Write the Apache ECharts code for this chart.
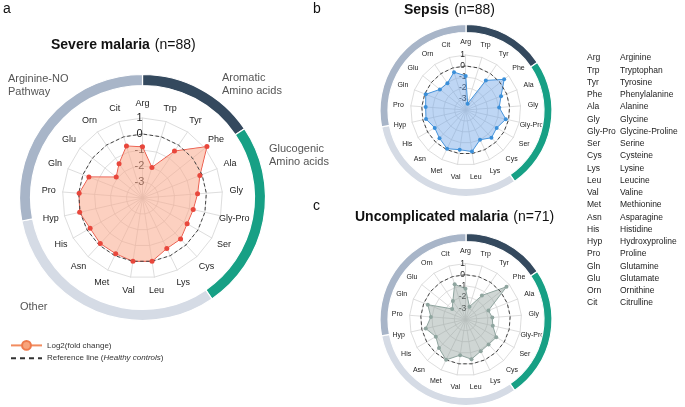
<!DOCTYPE html>
<html><head><meta charset="utf-8">
<script src="https://cdn.jsdelivr.net/npm/echarts@6/dist/echarts.min.js"></script>
<style>html,body{margin:0;padding:0;background:#fff}#c{width:685px;height:407px}</style>
</head><body><div id="c"></div>
<script>
// ---------- data ----------
const categories = ['Arg','Trp','Tyr','Phe','Ala','Gly','Gly-Pro','Ser','Cys','Lys','Leu','Val','Met','Asn','His','Hyp','Pro','Gln','Glu','Orn','Cit'];
const fullNames = ['Arginine','Tryptophan','Tyrosine','Phenylalanine','Alanine','Glycine','Glycine-Proline','Serine','Cysteine','Lysine','Leucine','Valine','Methionine','Asparagine','Histidine','Hydroxyproline','Proline','Glutamine','Glutamate','Ornithine','Citrulline'];
const severeMalaria = [-0.8, -2.0, -0.45, 1.15, -0.15, -0.55, -0.75, -0.78, -0.5, -0.5, 0.0, 0.0, -0.14, -0.12, -0.22, 0.03, -0.03, -0.4, -1.9, -1.4, -0.6];
const sepsis = [-0.9, -3.4, -0.75, 0.47, -0.55, -0.95, -0.26, -0.75, -0.56, -1.0, -0.18, -0.35, -0.1, -0.5, -0.75, -0.3, -0.35, -0.1, -1.0, -1.05, -0.4];
const uncomplicatedMalaria = [-1.25, -2.8, -1.4, 0.68, -1.8, -1.6, -1.5, -0.83, -0.97, -0.86, -0.42, -0.78, 0.0, -0.52, -0.94, -0.36, -0.9, -0.38, -2.48, -2.0, -0.71];
const healthyControls = [0,0,0,0,0,0,0,0,0,0,0,0,0,0,0,0,0,0,0,0,0];
const axisMin = -4, axisMax = 1;
const groupNames = ['Aromatic Amino acids','Glucogenic Amino acids','Other','Arginine-NO Pathway'];
const groupArcDegrees = [56, 89.6, 113.4, 101];
const groupColors = ['#34495e', '#17a085', '#d5dbe5', '#a8b5c8'];

// ---------- helpers ----------
const FF = '"Liberation Sans", Arial, Helvetica, sans-serif';
// ECharts radar runs counter-clockwise; the reference runs clockwise from the top
const order = [0].concat(categories.map((_, i) => i).slice(1).reverse());

function indicators(labelSize) {
  return order.map((i, k) => {
    const ind = { name: categories[i], min: axisMin, max: axisMax };
    if (k === 0) {
      ind.axisLabel = { show: true, fontSize: labelSize, color: '#222', fontFamily: FF,
        align: 'center', margin: 3, formatter: v => (v <= axisMin ? '' : String(v)) };
    }
    return ind;
  });
}
function radar(center, radius, nameSize, nameGap, labelSize) {
  return {
    center, radius, startAngle: 90, splitNumber: 5, shape: 'polygon', silent: true,
    indicator: indicators(labelSize),
    nameGap,
    axisName: { color: '#222', fontSize: nameSize, fontFamily: FF, align: 'center', verticalAlign: 'middle' },
    axisLine: { lineStyle: { color: '#d4d4d4', width: 0.8 } },
    splitLine: { lineStyle: { color: '#d4d4d4', width: 0.8 } },
    splitArea: { show: false },
    axisTick: { show: false },
    axisLabel: { show: false }
  };
}
function radarSeries(idx, values, color, fill, opacity, symSize) {
  return {
    type: 'radar', radarIndex: idx, silent: true, symbol: 'circle', symbolSize: symSize, z: 3,
    data: [
      { value: order.map(i => values[i]), name: 'd' + idx,
        lineStyle: { color, width: 1 }, itemStyle: { color },
        areaStyle: { color: fill, opacity } },
      { value: order.map(i => healthyControls[i]), name: 'r' + idx, symbol: 'none',
        lineStyle: { color: '#444', width: 1, type: [3.5, 2.5] }, itemStyle: { color: '#444' } }
    ]
  };
}
function ring(center, radius) {
  return {
    type: 'pie', center, radius, startAngle: 90, clockwise: true, silent: true,
    label: { show: false }, labelLine: { show: false }, emphasis: { disabled: true },
    itemStyle: { borderColor: '#fff', borderWidth: 1.2 },
    data: groupArcDegrees.map((v, i) => ({ value: v, name: groupNames[i], itemStyle: { color: groupColors[i] } }))
  };
}
function txt(text, left, top, size, extra) {
  return Object.assign({ text, left, top, padding: 0,
    textStyle: Object.assign({ fontSize: size, fontWeight: 'normal', color: '#111', fontFamily: FF }, extra || {}) });
}
function mainTitle(bold, n, left, top) {
  return { text: '{b|' + bold + '} {n|' + n + '}', left, top, padding: 0,
    textStyle: { rich: {
      b: { fontSize: 14, fontWeight: 'bold', color: '#111', fontFamily: FF },
      n: { fontSize: 14, fontWeight: 'normal', color: '#111', fontFamily: FF } } } };
}

const chart = echarts.init(document.getElementById('c'), null, { renderer: 'canvas' });
const groupStyle = { color: '#555', lineHeight: 13 };
chart.setOption({
  animation: false,
  backgroundColor: '#fff',
  title: [
    txt('a', 3, 2, 14), txt('b', 313, 2, 14), txt('c', 313, 199, 14),
    mainTitle('Severe malaria', '(n=88)', 51, 36),
    mainTitle('Sepsis', '(n=88)', 404, 1),
    mainTitle('Uncomplicated malaria', '(n=71)', 355, 208),
    txt('Arginine-NO\nPathway', 8, 72, 11, groupStyle),
    txt('Aromatic\nAmino acids', 222, 71, 11, groupStyle),
    txt('Glucogenic\nAmino acids', 269, 142, 11, groupStyle),
    txt('Other', 20, 300, 11, groupStyle),
    txt(categories.join('\n'), 587, 52, 8.5, { lineHeight: 12.25, color: '#222' }),
    txt(fullNames.join('\n'), 620, 52, 8.5, { lineHeight: 12.25, color: '#222' })
  ],
  legend: {
    orient: 'vertical', left: 5, top: 335, itemWidth: 31, itemHeight: 11, itemGap: 3,
    selectedMode: false,
    data: ['Log2(fold change)', { name: 'Reference line', itemStyle: { opacity: 0 } }],
    formatter: n => n === 'Reference line' ? 'Reference line ({i|Healthy controls})' : n,
    textStyle: { fontSize: 8, color: '#333', fontFamily: FF,
      rich: { i: { fontStyle: 'italic', fontSize: 8, color: '#333', fontFamily: FF } } }
  },
  grid: { left: -300, top: -300, width: 10, height: 10, show: false },
  xAxis: { type: 'value', show: false },
  yAxis: { type: 'value', show: false },
  radar: [
    radar([142.5, 198], 80, 9, 14, 11),
    radar([465.7, 110], 55, 7, 12.5, 8.5),
    radar([465.5, 319.5], 56, 7, 12.5, 8.5)
  ],
  series: [
    ring([142.5, 197.5], [112, 123]),
    ring([466, 110.5], [78, 86]),
    ring([466, 319.5], [78, 86]),
    radarSeries(0, severeMalaria, '#e8473c', '#f9a98c', 0.55, 5),
    radarSeries(1, sepsis, '#3a8fd9', '#6fa3e6', 0.45, 4),
    radarSeries(2, uncomplicatedMalaria, '#8fa59f', '#95a5a0', 0.45, 4),
    { type: 'line', name: 'Log2(fold change)', data: [], symbol: 'circle', symbolSize: 9,
      lineStyle: { color: '#f28c5f', width: 1.5 },
      itemStyle: { color: '#f8a47c', borderColor: '#ee7a4c', borderWidth: 1 } },
    { type: 'line', name: 'Reference line', data: [], symbol: 'none',
      lineStyle: { color: '#333', width: 1.5, type: [5, 4] }, itemStyle: { color: '#333' } }
  ]
});
</script></body></html>
